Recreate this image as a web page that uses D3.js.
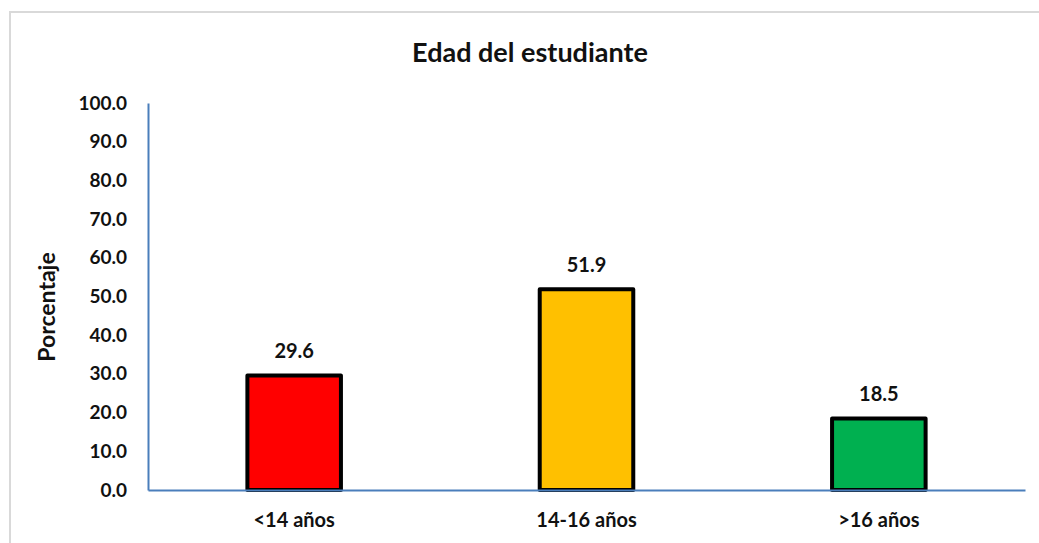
<!DOCTYPE html>
<html>
<head>
<meta charset="utf-8">
<script src="https://cdn.jsdelivr.net/npm/d3@7"></script>
<style>
  html, body { margin: 0; padding: 0; background: #fff; }
  svg { display: block; }
  text { font-family: "Lato", "Open Sans", sans-serif; font-weight: bold; fill: #111; }
</style>
</head>
<body>
<svg id="chart" width="1039" height="543"></svg>
<script>
// Age groups of the students and their share (%)
const categories = ["<14 años", "14-16 años", ">16 años"];
const values = [29.6, 51.9, 18.5];
const barColors = ["#ff0000", "#ffc000", "#00b050"];
const yTicks = [0, 10, 20, 30, 40, 50, 60, 70, 80, 90, 100];
const title = "Edad del estudiante";
const yLabel = "Porcentaje";

const svg = d3.select("#chart");
const W = 1039, H = 543;
const m = { left: 148, right: 14, top: 103, bottom: 53 };
const font = "Lato, 'Open Sans', sans-serif";

// outer chart frame
svg.append("rect")
  .attr("x", 10).attr("y", 12)
  .attr("width", W + 20).attr("height", H + 20)
  .attr("fill", "none").attr("stroke", "#d9d9d9").attr("stroke-width", 2);

const x = d3.scaleBand()
  .domain(categories)
  .range([m.left, W - m.right])
  .paddingInner(0.68).paddingOuter(0.34);

const y = d3.scaleLinear().domain([0, 100]).range([H - m.bottom, m.top]);

// bars
svg.append("g").selectAll("rect")
  .data(values)
  .join("rect")
  .attr("x", (d, i) => x(categories[i]))
  .attr("y", d => y(d))
  .attr("width", x.bandwidth())
  .attr("height", d => y(0) - y(d))
  .attr("fill", (d, i) => barColors[i])
  .attr("stroke", "#000").attr("stroke-width", 4)
  .attr("stroke-linejoin", "round");

// value labels
svg.append("g").selectAll("text")
  .data(values)
  .join("text")
  .attr("x", (d, i) => x(categories[i]) + x.bandwidth() / 2)
  .attr("y", d => y(d) - 17)
  .attr("text-anchor", "middle")
  .attr("font-size", 20)
  .text(d => d.toFixed(1));

// y axis
const yAxis = d3.axisLeft(y).tickValues(yTicks).tickSize(0).tickPadding(21)
  .tickFormat(d3.format(".1f"));
const gy = svg.append("g").attr("transform", `translate(${m.left},0)`).call(yAxis);
gy.select(".domain").attr("stroke", "#4a7ebb").attr("stroke-width", 2);
gy.selectAll("text").attr("font-size", 19).attr("font-family", font)
  .attr("font-weight", "bold").attr("fill", "#111");

// x axis
const xAxis = d3.axisBottom(x).tickSize(0).tickPadding(23);
const gx = svg.append("g").attr("transform", `translate(0,${y(0)})`).call(xAxis);
gx.select(".domain").attr("stroke", "#4a7ebb").attr("stroke-width", 2);
gx.selectAll("text").attr("font-size", 20).attr("font-family", font)
  .attr("font-weight", "bold").attr("fill", "#111");

// title
svg.append("text")
  .attr("x", 530).attr("y", 62)
  .attr("text-anchor", "middle")
  .attr("font-size", 27)
  .text(title);

// y axis title
svg.append("text")
  .attr("transform", "translate(55,307) rotate(-90)")
  .attr("text-anchor", "middle")
  .attr("font-size", 23)
  .text(yLabel);
</script>
</body>
</html>
